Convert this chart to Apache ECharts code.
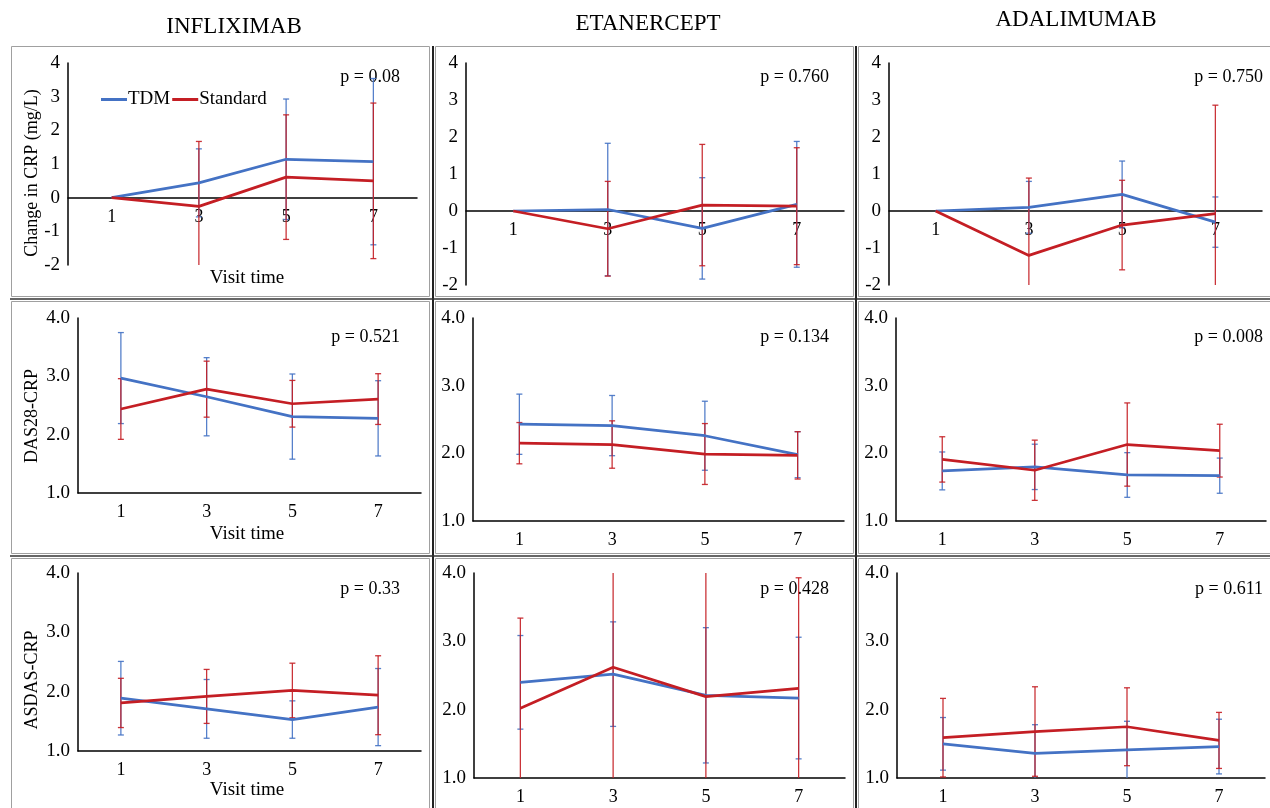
<!DOCTYPE html>
<html>
<head>
<meta charset="utf-8">
<script src="https://cdn.jsdelivr.net/npm/echarts@6/dist/echarts.min.js"></script>
<style>
html, body { margin: 0; padding: 0; background: #fff; }
#chart { width: 1270px; height: 808px; }
</style>
</head>
<body>
<div id="chart"></div>
<script>
const visits = ['1', '3', '5', '7'];
const drugs = ['INFLIXIMAB', 'ETANERCEPT', 'ADALIMUMAB'];
const rowTitles = ['Change in CRP (mg/L)', 'DAS28-CRP', 'ASDAS-CRP'];
const seriesNames = ['TDM', 'Standard'];

// Change in CRP (row 1)
const crpIfxTdm = [0, 0.44, 1.14, 1.07];
const crpIfxTdmErr = [0, 1.01, 1.79, 2.47];
const crpIfxStd = [0, -0.26, 0.61, 0.50];
const crpIfxStdErr = [0, 1.93, 1.85, 2.31];
const crpEtnTdm = [0, 0.04, -0.47, 0.18];
const crpEtnTdmErr = [0, 1.79, 1.37, 1.70];
const crpEtnStd = [0, -0.48, 0.16, 0.13];
const crpEtnStdErr = [0, 1.28, 1.64, 1.58];
const crpAdaTdm = [0, 0.10, 0.45, -0.30];
const crpAdaTdmErr = [0, 0.70, 0.90, 0.68];
const crpAdaStd = [0, -1.20, -0.38, -0.07];
const crpAdaStdErr = [0, 2.09, 1.21, 2.93];

// DAS28-CRP (row 2)
const dasIfxTdm = [2.97, 2.65, 2.31, 2.28];
const dasIfxTdmErr = [0.78, 0.67, 0.73, 0.645];
const dasIfxStd = [2.44, 2.78, 2.53, 2.61];
const dasIfxStdErr = [0.52, 0.48, 0.40, 0.435];
const dasEtnTdm = [2.43, 2.41, 2.26, 1.98];
const dasEtnTdmErr = [0.445, 0.445, 0.51, 0.34];
const dasEtnStd = [2.15, 2.13, 1.99, 1.97];
const dasEtnStdErr = [0.305, 0.35, 0.45, 0.35];
const dasAdaTdm = [1.74, 1.80, 1.68, 1.67];
const dasAdaTdmErr = [0.28, 0.335, 0.33, 0.26];
const dasAdaStd = [1.91, 1.75, 2.13, 2.04];
const dasAdaStdErr = [0.335, 0.445, 0.615, 0.39];

// ASDAS-CRP (row 3)
const asdasIfxTdm = [1.89, 1.71, 1.53, 1.74];
const asdasIfxTdmErr = [0.62, 0.495, 0.315, 0.65];
const asdasIfxStd = [1.81, 1.92, 2.02, 1.94];
const asdasIfxStdErr = [0.415, 0.455, 0.46, 0.665];
const asdasEtnTdm = [2.40, 2.52, 2.21, 2.17];
const asdasEtnTdmErr = [0.685, 0.765, 0.99, 0.89];
const asdasEtnStd = [2.02, 2.62, 2.19, 2.31];
const asdasEtnStdErr = [1.32, 1.90, 2.00, 1.62];
const asdasAdaTdm = [1.50, 1.36, 1.41, 1.46];
const asdasAdaTdmErr = [0.385, 0.42, 0.42, 0.40];
const asdasAdaStd = [1.59, 1.68, 1.75, 1.55];
const asdasAdaStdErr = [0.575, 0.655, 0.57, 0.41];

const pValues = ['p = 0.08', 'p = 0.760', 'p = 0.750',
                 'p = 0.521', 'p = 0.134', 'p = 0.008',
                 'p = 0.33', 'p = 0.428', 'p = 0.611'];

const yTicksCrp = [-2, -1, 0, 1, 2, 3, 4];
const yTicksScore = [1.0, 2.0, 3.0, 4.0];

const BLUE = '#4472C4';
const RED = '#C41E24';
const FONT = "'Liberation Serif', 'Times New Roman', serif";

const panelData = [
  [crpIfxTdm, crpIfxTdmErr, crpIfxStd, crpIfxStdErr],
  [crpEtnTdm, crpEtnTdmErr, crpEtnStd, crpEtnStdErr],
  [crpAdaTdm, crpAdaTdmErr, crpAdaStd, crpAdaStdErr],
  [dasIfxTdm, dasIfxTdmErr, dasIfxStd, dasIfxStdErr],
  [dasEtnTdm, dasEtnTdmErr, dasEtnStd, dasEtnStdErr],
  [dasAdaTdm, dasAdaTdmErr, dasAdaStd, dasAdaStdErr],
  [asdasIfxTdm, asdasIfxTdmErr, asdasIfxStd, asdasIfxStdErr],
  [asdasEtnTdm, asdasEtnTdmErr, asdasEtnStd, asdasEtnStdErr],
  [asdasAdaTdm, asdasAdaTdmErr, asdasAdaStd, asdasAdaStdErr]
];

// plot areas
const grids = [
  { left: 68, top: 63, width: 349, height: 202 },
  { left: 466, top: 63, width: 378, height: 222 },
  { left: 889, top: 63, width: 373, height: 222 },
  { left: 78, top: 318, width: 343, height: 175 },
  { left: 473, top: 318, width: 371, height: 203 },
  { left: 896, top: 318, width: 370, height: 203 },
  { left: 78, top: 573, width: 343, height: 178 },
  { left: 474, top: 573, width: 371, height: 205 },
  { left: 897, top: 573, width: 368, height: 205 }
];
const pRight = [400, 829, 1263];
const pTop = [77, 337, 589];

function errorBarSeries(gi, means, errs, color, yMin, yMax) {
  return {
    type: 'custom',
    xAxisIndex: gi,
    yAxisIndex: gi,
    silent: true,
    z: 1,
    data: means.map((m, i) => [i, m, errs[i]]),
    renderItem(params, api) {
      const idx = api.value(0);
      const m = api.value(1);
      const e = api.value(2);
      if (!e) return null;
      let lo = m - e, hi = m + e;
      const loClip = lo < yMin, hiClip = hi > yMax;
      lo = Math.max(lo, yMin);
      hi = Math.min(hi, yMax);
      const pLo = api.coord([idx, lo]);
      const pHi = api.coord([idx, hi]);
      const x = pLo[0];
      const st = { stroke: color, lineWidth: 1.3, opacity: 0.9 };
      const children = [
        { type: 'line', shape: { x1: x, y1: pLo[1], x2: x, y2: pHi[1] }, style: st }
      ];
      if (!loClip) children.push({ type: 'line', shape: { x1: x - 3, y1: pLo[1], x2: x + 3, y2: pLo[1] }, style: st });
      if (!hiClip) children.push({ type: 'line', shape: { x1: x - 3, y1: pHi[1], x2: x + 3, y2: pHi[1] }, style: st });
      return { type: 'group', children };
    }
  };
}

const xAxes = [], yAxes = [], series = [];
grids.forEach((g, gi) => {
  const isCrp = gi < 3;
  const ticks = isCrp ? yTicksCrp : yTicksScore;
  const yMin = ticks[0], yMax = ticks[ticks.length - 1];
  // CRP panels: the labels sit just under the zero line
  const labelMargin = isCrp ? Math.round(10 - g.height * (0 - yMin) / (yMax - yMin)) : 10;
  xAxes.push({
    gridIndex: gi,
    type: 'category',
    data: visits,
    boundaryGap: true,
    axisLine: { onZero: true, lineStyle: { color: '#000', width: 1.5 } },
    axisTick: { show: false },
    axisLabel: { color: '#000', fontFamily: FONT, fontSize: 18, margin: labelMargin },
    splitLine: { show: false }
  });
  yAxes.push({
    gridIndex: gi,
    type: 'value',
    min: yMin,
    max: yMax,
    interval: 1,
    axisLine: { show: true, lineStyle: { color: '#000', width: 1.5 } },
    axisTick: { show: false },
    splitLine: { show: false },
    axisLabel: {
      color: '#000', fontFamily: FONT, fontSize: 19, margin: 8,
      formatter: v => isCrp ? String(v) : v.toFixed(1)
    }
  });
  const [tdm, tdmErr, std, stdErr] = panelData[gi];
  series.push(errorBarSeries(gi, tdm, tdmErr, BLUE, yMin, yMax));
  series.push(errorBarSeries(gi, std, stdErr, RED, yMin, yMax));
  series.push({
    name: seriesNames[0], type: 'line', xAxisIndex: gi, yAxisIndex: gi,
    data: tdm, symbol: 'none', z: 3, silent: true,
    lineStyle: { color: BLUE, width: 2.75 }, itemStyle: { color: BLUE }
  });
  series.push({
    name: seriesNames[1], type: 'line', xAxisIndex: gi, yAxisIndex: gi,
    data: std, symbol: 'none', z: 4, silent: true,
    lineStyle: { color: RED, width: 2.75 }, itemStyle: { color: RED }
  });
});

const graphic = [];
// panel frames
const colX = [[11, 429], [435, 853], [858, 1270]];
const rowY = [[46, 296], [301, 553], [558, 808]];
rowY.forEach(([y1, y2]) => colX.forEach(([x1, x2]) => {
  graphic.push({ type: 'rect', shape: { x: x1 + 0.5, y: y1 + 0.5, width: x2 - x1, height: y2 - y1 },
    style: { fill: 'none', stroke: '#a0a0a0', lineWidth: 1 }, silent: true });
}));
[433, 856].forEach(x => graphic.push({ type: 'line', shape: { x1: x, y1: 46, x2: x, y2: 808 },
  style: { stroke: '#222', lineWidth: 2 }, silent: true }));
[299, 556].forEach(y => graphic.push({ type: 'line', shape: { x1: 10, y1: y, x2: 1270, y2: y },
  style: { stroke: '#333', lineWidth: 1.5 }, silent: true }));

// column titles
const titlePos = [[234, 27], [648, 24], [1076, 20]];
drugs.forEach((d, i) => graphic.push({ type: 'text', x: titlePos[i][0], y: titlePos[i][1],
  style: { text: d, fill: '#000', font: '23px ' + FONT, textAlign: 'center', textVerticalAlign: 'middle' } }));

// p values
pValues.forEach((p, i) => graphic.push({ type: 'text', x: pRight[i % 3], y: pTop[Math.floor(i / 3)],
  style: { text: p, fill: '#000', font: '18px ' + FONT, textAlign: 'right', textVerticalAlign: 'middle' } }));

// row titles (rotated) and "Visit time"
const rowTitleY = [173, 416, 680];
rowTitles.forEach((t, i) => graphic.push({ type: 'text', x: 32, y: rowTitleY[i], rotation: Math.PI / 2,
  style: { text: t, fill: '#000', font: '18px ' + FONT, textAlign: 'center', textVerticalAlign: 'middle' } }));
[278, 534, 790].forEach(y => graphic.push({ type: 'text', x: 247, y,
  style: { text: 'Visit time', fill: '#000', font: '19px ' + FONT, textAlign: 'center', textVerticalAlign: 'middle' } }));

const chart = echarts.init(document.getElementById('chart'), null, { renderer: 'canvas' });
chart.setOption({
  animation: false,
  backgroundColor: '#fff',
  legend: {
    data: seriesNames,
    left: 101, top: 90,
    icon: 'rect',
    itemWidth: 26, itemHeight: 3, itemGap: 2,
    padding: 0,
    selectedMode: false,
    textStyle: { color: '#000', fontFamily: FONT, fontSize: 19, padding: [0, 0, 0, -4] }
  },
  grid: grids.map(g => Object.assign({ containLabel: false }, g)),
  xAxis: xAxes,
  yAxis: yAxes,
  series,
  graphic
});
</script>
</body>
</html>
